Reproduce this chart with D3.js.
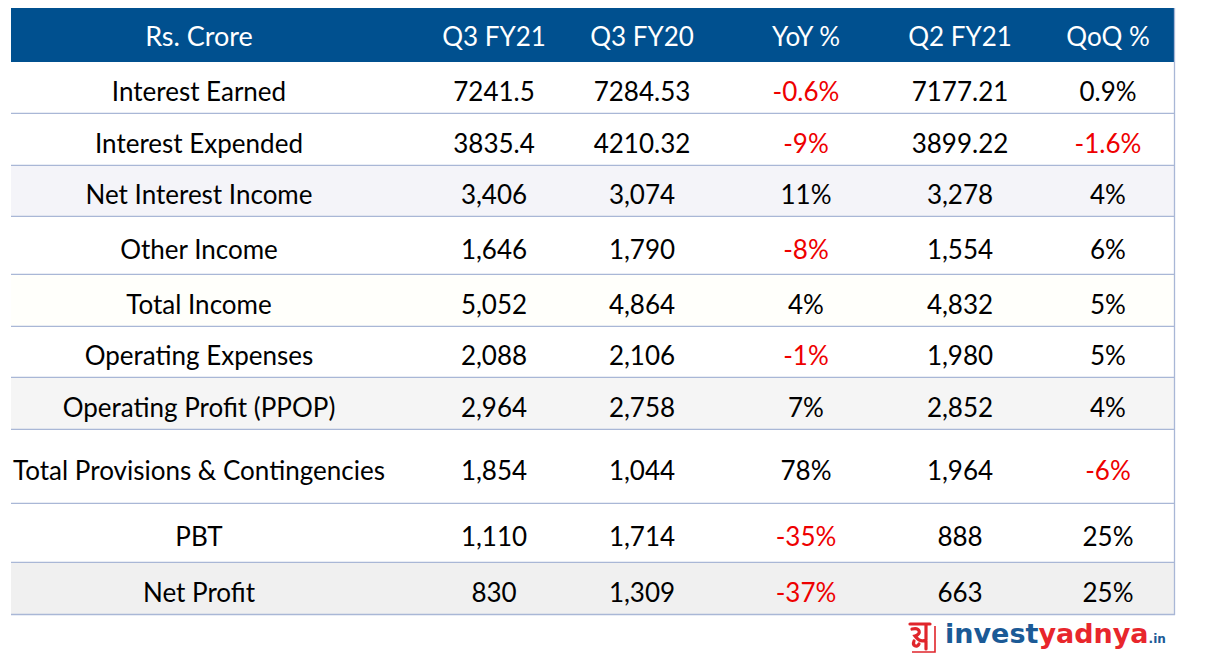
<!DOCTYPE html>
<html>
<head>
<meta charset="utf-8">
<script src="https://cdn.jsdelivr.net/npm/d3@7/dist/d3.min.js"></script>
<style>
  html, body { margin: 0; padding: 0; background: #ffffff; }
  svg { display: block; }
</style>
</head>
<body>
<svg id="chart" width="1207" height="669"></svg>
<script>
// ---------- DATA ----------
const headers = ["Rs. Crore", "Q3 FY21", "Q3 FY20", "YoY %", "Q2 FY21", "QoQ %"];
const categories = [
  "Interest Earned", "Interest Expended", "Net Interest Income", "Other Income",
  "Total Income", "Operating Expenses", "Operating Profit (PPOP)",
  "Total Provisions & Contingencies", "PBT", "Net Profit"
];
const q3fy21 = ["7241.5", "3835.4", "3,406", "1,646", "5,052", "2,088", "2,964", "1,854", "1,110", "830"];
const q3fy20 = ["7284.53", "4210.32", "3,074", "1,790", "4,864", "2,106", "2,758", "1,044", "1,714", "1,309"];
const yoy    = ["-0.6%", "-9%", "11%", "-8%", "4%", "-1%", "7%", "78%", "-35%", "-37%"];
const q2fy21 = ["7177.21", "3899.22", "3,278", "1,554", "4,832", "1,980", "2,852", "1,964", "888", "663"];
const qoq    = ["0.9%", "-1.6%", "4%", "6%", "5%", "5%", "4%", "-6%", "25%", "25%"];

// ---------- LAYOUT ----------
const tableLeft = 11, tableRight = 1175;
const headerTop = 8, headerBottom = 62;
const rowHeights = [52, 52, 51, 58, 52, 51, 52, 74, 59, 52];
const rowFills = ["#ffffff", "#ffffff", "#f4f4f9", "#ffffff", "#fffffb", "#ffffff", "#f5f5f5", "#ffffff", "#ffffff", "#f0f0f0"];
const colCenters = [199, 494, 642, 806, 960, 1108];
const FONT = "Lato, 'Open Sans', sans-serif";
const FS = 26;

const svg = d3.select("#chart");

const columns = [categories, q3fy21, q3fy20, yoy, q2fy21, qoq];
const colScale = d3.scaleOrdinal().domain(d3.range(headers.length)).range(colCenters);

const rowTops = [];
let acc = headerBottom;
rowHeights.forEach(h => { rowTops.push(acc); acc += h; });
const tableBottom = acc;
const rowY = d3.scaleOrdinal().domain(d3.range(categories.length)).range(rowTops);

// header
svg.append("rect")
  .attr("x", tableLeft).attr("y", headerTop)
  .attr("width", tableRight - tableLeft).attr("height", headerBottom - headerTop)
  .attr("fill", "#00508f");

svg.append("g").selectAll("text").data(headers).join("text")
  .attr("x", (d, i) => colScale(i))
  .attr("y", (headerTop + headerBottom) / 2 + 10.5)
  .attr("text-anchor", "middle")
  .attr("font-family", FONT).attr("font-size", (d, i) => i === 0 ? 27 : FS)
  .attr("fill", "#ffffff")
  .text(d => d);

// rows
const rows = svg.append("g").selectAll("g").data(categories).join("g")
  .attr("transform", (d, i) => `translate(0,${rowY(i)})`);

rows.append("rect")
  .attr("x", tableLeft).attr("y", 0)
  .attr("width", tableRight - tableLeft)
  .attr("height", (d, i) => rowHeights[i])
  .attr("fill", (d, i) => rowFills[i]);

rows.append("line")
  .attr("x1", tableLeft).attr("x2", tableRight)
  .attr("y1", (d, i) => rowHeights[i] - 0.5).attr("y2", (d, i) => rowHeights[i] - 0.5)
  .attr("stroke", "#a9b7d6").attr("stroke-width", 1.3);

rows.each(function (d, i) {
  const g = d3.select(this);
  columns.forEach((col, c) => {
    const val = col[i];
    const isNeg = (c === 3 || c === 5) && val.trim().startsWith("-");
    g.append("text")
      .attr("x", colScale(c))
      .attr("y", rowHeights[i] / 2 + 12.5)
      .attr("text-anchor", "middle")
      .attr("font-family", FONT).attr("font-size", FS)
      .attr("fill", isNeg ? "#ee0000" : "#000000")
      .text(val);
  });
});

// right border
svg.append("line")
  .attr("x1", tableRight - 0.5).attr("x2", tableRight - 0.5)
  .attr("y1", headerTop).attr("y2", tableBottom)
  .attr("stroke", "#a9b7d6").attr("stroke-width", 1.3);

// ---------- LOGO ----------
const logo = svg.append("g").attr("transform", "translate(908,620)");
logo.append("path")
  .attr("d", "M27,6 L27,32 L4,32")
  .attr("fill", "none").attr("stroke", "#e0252b").attr("stroke-width", 1.6);
logo.append("path")
  .attr("d", "M2,4 L22,4 M18,4 L18,29 M4,9 C12,7 14,14 7,16 C10,20 14,22 18,20 M6,21 C4,26 9,28 11,24")
  .attr("fill", "none").attr("stroke", "#e0252b").attr("stroke-width", 3.2).attr("stroke-linecap", "round");

const logoText = svg.append("text")
  .attr("x", 945).attr("y", 643)
  .attr("font-family", "'DejaVu Sans', sans-serif").attr("font-weight", 700).attr("font-size", 27);
logoText.append("tspan").attr("fill", "#1b5a96").text("invest");
logoText.append("tspan").attr("fill", "#e8262c").text("yadnya");
logoText.append("tspan").attr("fill", "#1b5a96").attr("font-size", 12).text(".in");
</script>
</body>
</html>
